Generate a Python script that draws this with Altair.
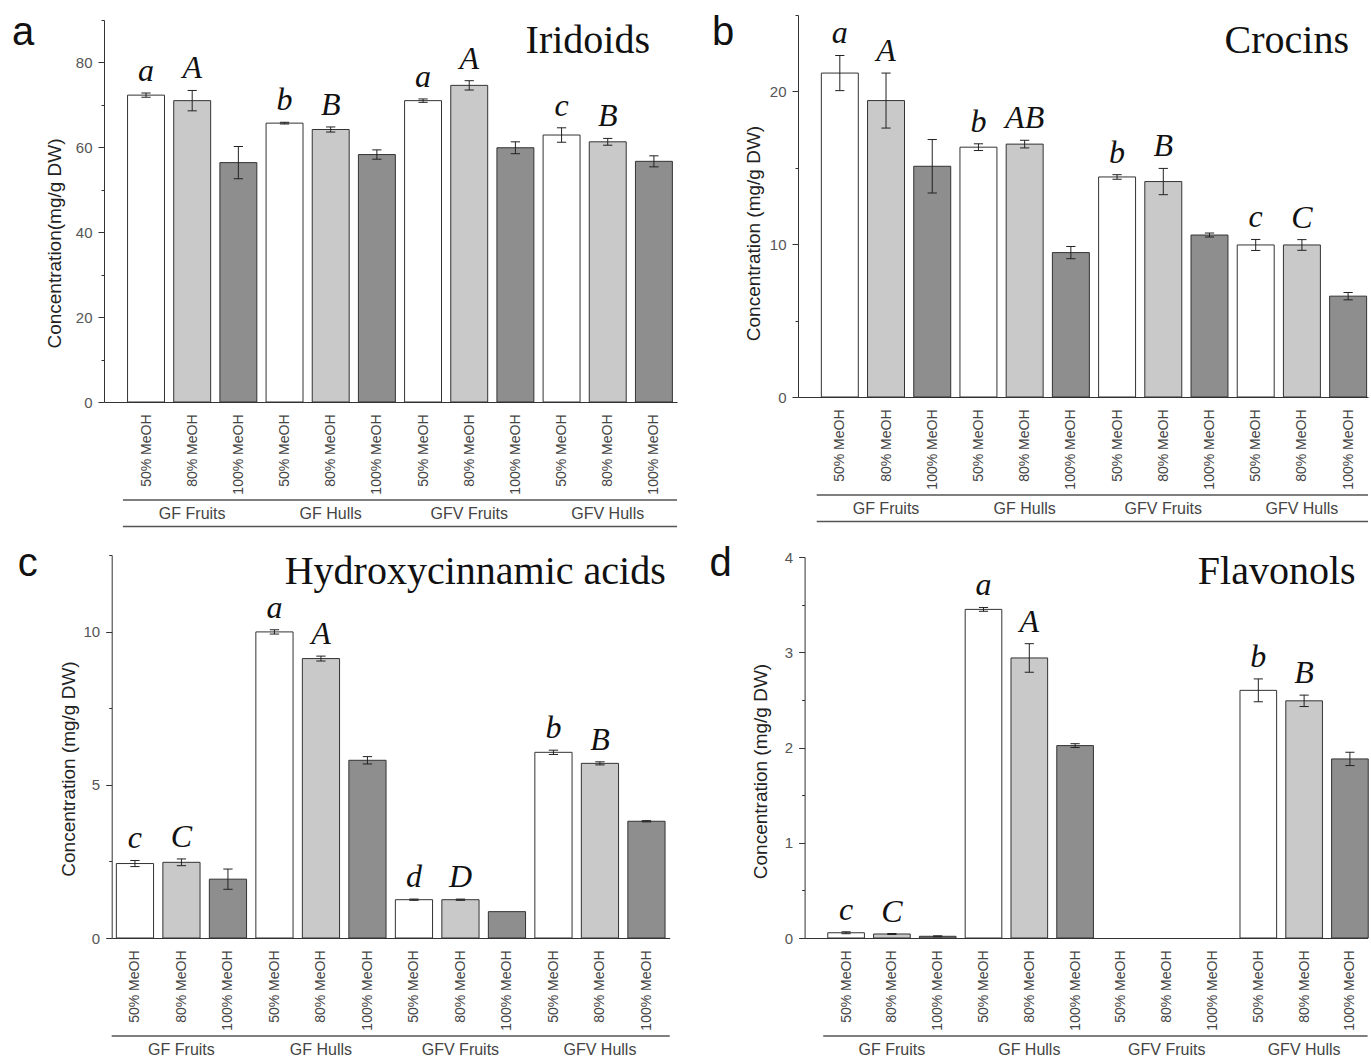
import altair as alt
import pandas as pd

# ---------------- data ----------------
groups = ["GF Fruits", "GF Hulls", "GFV Fruits", "GFV Hulls"]
solvents = ["50% MeOH", "80% MeOH", "100% MeOH"]
fills = ["#ffffff", "#c9c9c9", "#8e8e8e"]

iridoids_mean = [72.3, 71.0, 56.4, 65.7, 64.2, 58.3, 71.0, 74.6, 59.9, 62.9, 61.3, 56.7]
iridoids_err = [0.5, 2.4, 3.8, 0.2, 0.6, 1.1, 0.4, 1.1, 1.4, 1.7, 0.8, 1.3]
iridoids_letters = ["a", "A", "", "b", "B", "", "a", "A", "", "c", "B", ""]

crocins_mean = [21.2, 19.4, 15.1, 16.35, 16.55, 9.45, 14.4, 14.1, 10.6, 9.95, 9.95, 6.6]
crocins_err = [1.15, 1.8, 1.75, 0.22, 0.25, 0.4, 0.15, 0.86, 0.13, 0.36, 0.35, 0.24]
crocins_letters = ["a", "A", "", "b", "AB", "", "b", "B", "", "c", "C", ""]

hca_mean = [2.43, 2.47, 1.92, 9.99, 9.12, 5.8, 1.25, 1.25, 0.86, 6.06, 5.7, 3.81]
hca_err = [0.1, 0.11, 0.33, 0.07, 0.08, 0.12, 0.02, 0.02, 0.0, 0.07, 0.05, 0.02]
hca_letters = ["c", "C", "", "a", "A", "", "d", "D", "", "b", "B", ""]

flav_mean = [0.055, 0.042, 0.018, 3.45, 2.94, 2.02, None, None, None, 2.6, 2.49, 1.88]
flav_err = [0.01, 0.005, 0.005, 0.02, 0.15, 0.02, None, None, None, 0.12, 0.06, 0.07]
flav_letters = ["c", "C", "", "a", "A", "", "", "", "", "b", "B", ""]

SANS = "Liberation Sans"
SERIF = "Liberation Serif"


def make_df(mean, err, letters):
    rows = []
    for i in range(len(mean)):
        rows.append(dict(i=i, v=mean[i], e=err[i], lab=letters[i],
                         solvent=solvents[i % 3], group=groups[i // 3]))
    return pd.DataFrame(rows)


def panel(mean, err, letters, cfg):
    df = make_df(mean, err, letters)
    W, H = cfg["w"], cfg["h"]
    ox, oy = cfg.get("ox", 0), cfg.get("oy", 0)
    xs = alt.Scale(domain=cfg["xdom"], nice=False, zero=False, range=[ox, W])
    ys = alt.Scale(domain=cfg["ydom"], nice=False, zero=False, range=[H, oy])
    major, minor = cfg["major"], cfg["minor"]
    nminor = int(round(cfg["ydom"][1] / minor))
    yvals = [round(k * minor, 4) for k in range(nminor + 1)]

    label_js = "[" + ",".join("'%s'" % s for s in solvents) + "]"
    xaxis = alt.Axis(values=list(range(12)), labelExpr=label_js + "[datum.value % 3]",
                     labelAngle=270, ticks=False, grid=False, domainColor="#333",
                     domainWidth=1, labelColor="#444", labelFont=SANS, labelFontSize=14,
                     labelPadding=12, labelOverlap=False, labelFlush=False,
                     labelBound=False, title=None)
    yaxis = alt.Axis(values=yvals, offset=-ox,
                     labelExpr="datum.value %% %s == 0 ? '' + datum.value : ''" % major,
                     tickSize={"condition": {"test": "datum.value %% %s == 0" % major, "value": 6},
                               "value": 3},
                     tickColor="#333", domainColor="#333", labelColor="#555",
                     labelFont=SANS, labelFontSize=15, labelPadding=6, grid=False,
                     labelOverlap=False, labelFlush=False,
                     title=cfg["ylabel"], titleFont=SANS, titleFontSize=19,
                     titleFontWeight="normal", titleColor="#222",
                     titleX=cfg["tx"], titleY=cfg["ty"] + oy, titleAngle=270,
                     titleAlign="center", titleBaseline="middle")

    def X(f):
        return alt.X(f, scale=xs, axis=xaxis)

    def Y(f):
        return alt.Y(f, scale=ys, axis=yaxis)

    base = alt.Chart(df)
    bars = base.transform_filter("isValid(datum.v)").transform_calculate(
        x0="datum.i - 0.4", x1="datum.i + 0.4").mark_rect(
        stroke="#333", strokeWidth=1).encode(
        x=X("x0:Q"), x2="x1:Q", y=Y("v:Q"), y2=alt.datum(0),
        fill=alt.Fill("solvent:N", scale=alt.Scale(domain=solvents, range=fills), legend=None))

    eb = base.transform_filter("isValid(datum.v) && datum.e > 0").transform_calculate(
        lo="datum.v - datum.e", hi="datum.v + datum.e",
        c0="datum.i - 0.1", c1="datum.i + 0.1")
    stem = eb.mark_rule(color="#222", strokeWidth=1).encode(
        x=X("i:Q"), y=Y("lo:Q"), y2="hi:Q")
    cap_hi = eb.mark_rule(color="#222", strokeWidth=1).encode(
        x=X("c0:Q"), x2="c1:Q", y=Y("hi:Q"))
    cap_lo = eb.mark_rule(color="#222", strokeWidth=1).encode(
        x=X("c0:Q"), x2="c1:Q", y=Y("lo:Q"))

    lets = base.transform_filter("datum.lab != ''").transform_calculate(
        top="datum.v + datum.e").mark_text(
        font=SERIF, fontStyle="italic", fontSize=32, baseline="alphabetic",
        align="center", dy=-12, color="#111").encode(
        x=X("i:Q"), y=Y("top:Q"), text="lab:N")

    tdf = pd.DataFrame({"t": [cfg["title"]], "p": [cfg["letter"]]})
    title = alt.Chart(tdf).mark_text(font=SERIF, fontSize=40, align="right",
                                     baseline="alphabetic", color="#111").encode(
        x=alt.value(cfg["title_x"] + ox), y=alt.value(cfg["title_y"] + oy), text="t:N")
    plet = alt.Chart(tdf).mark_text(font=SANS, fontSize=40, align="left",
                                    baseline="alphabetic", color="#111").encode(
        x=alt.value(cfg["let_x"] + ox), y=alt.value(cfg["let_y"] + oy), text="p:N")

    one = pd.DataFrame({"z": [0]})
    xend = min(11.5, cfg["xdom"][1])
    layers = [bars, stem, cap_hi, cap_lo, lets, title, plet]
    gl_top = alt.Chart(one).mark_rule(color="#555", strokeWidth=1.3).encode(
        x=alt.datum(-0.5), x2=alt.datum(xend), y=alt.value(H + 98))
    layers.append(gl_top)
    if cfg["bottom_line"]:
        gl_bot = alt.Chart(one).mark_rule(color="#555", strokeWidth=1.3).encode(
            x=alt.datum(-0.5), x2=alt.datum(xend), y=alt.value(H + 124.5))
        layers.append(gl_bot)
    gdf = pd.DataFrame({"group": groups, "gi": [3 * k + 1 for k in range(len(groups))]})
    glab = alt.Chart(gdf).mark_text(font=SANS, fontSize=16, color="#444",
                                    baseline="middle", align="center").encode(
        x=X("gi:Q"), y=alt.value(H + 111.5), text="group:N")
    layers.append(glab)
    if cfg.get("anchor"):
        ax, ay = cfg["anchor"]
        anchor = alt.Chart(one).mark_rect(opacity=0).encode(
            x=alt.value(ax), x2=alt.value(ax + 1), y=alt.value(ay), y2=alt.value(ay + 1))
        layers.append(anchor)
    return alt.layer(*layers).properties(width=W, height=H)


# panel a: group origin at page (103, 14); plot top at 19
pa = panel(iridoids_mean, iridoids_err, iridoids_letters, dict(
    w=573, h=387, oy=5, xdom=[-0.91, 11.5], ydom=[0, 90], major=20, minor=10,
    title="Iridoids", title_x=546, title_y=32.5, letter="a", let_x=-92, let_y=25,
    ylabel="Concentration(mg/g DW)", tx=-50, ty=223, bottom_line=True, anchor=(-103, -14)))
# panel b: origin (797, 14)
pb = panel(crocins_mean, crocins_err, crocins_letters, dict(
    w=570, h=382, xdom=[-0.905, 11.43], ydom=[0, 25], major=10, minor=5,
    title="Crocins", title_x=551, title_y=37.5, letter="b", let_x=-86, let_y=30,
    ylabel="Concentration (mg/g DW)", tx=-45, ty=218, bottom_line=True))
# panel c: group origin (103, 554); axis at 110.7
pc = panel(hca_mean, hca_err, hca_letters, dict(
    w=565.7, h=383, ox=7.7, xdom=[-0.5, 11.5], ydom=[0, 12.5], major=5, minor=2.5,
    title="Hydroxycinnamic acids", title_x=554, title_y=29, letter="c", let_x=-94, let_y=20.5,
    ylabel="Concentration (mg/g DW)", tx=-43.5, ty=213.5, bottom_line=False))
# panel d: group origin (803.3, 554); plot top at 556
pd_ = panel(flav_mean, flav_err, flav_letters, dict(
    w=563, h=383, oy=2, xdom=[-0.906, 11.386], ydom=[0, 4], major=1, minor=0.5,
    title="Flavonols", title_x=551, title_y=27, letter="d", let_x=-95, let_y=18.5,
    ylabel="Concentration (mg/g DW)", tx=-44, ty=214, bottom_line=False))

row1 = alt.hconcat(pa, pb, spacing=121, bounds="flush")
row2 = alt.hconcat(pc, pd_, spacing=134.6, bounds="flush")
# with flush bounds a nested row counts as zero height, so the spacing is top-to-top
chart = alt.vconcat(row1, row2, spacing=540, bounds="flush").properties(
    padding={"left": 0, "top": 0, "right": 0, "bottom": 0},
    background="white").configure_view(stroke="transparent")

chart.save("out.html", embed_options={"renderer": "svg", "actions": False})
